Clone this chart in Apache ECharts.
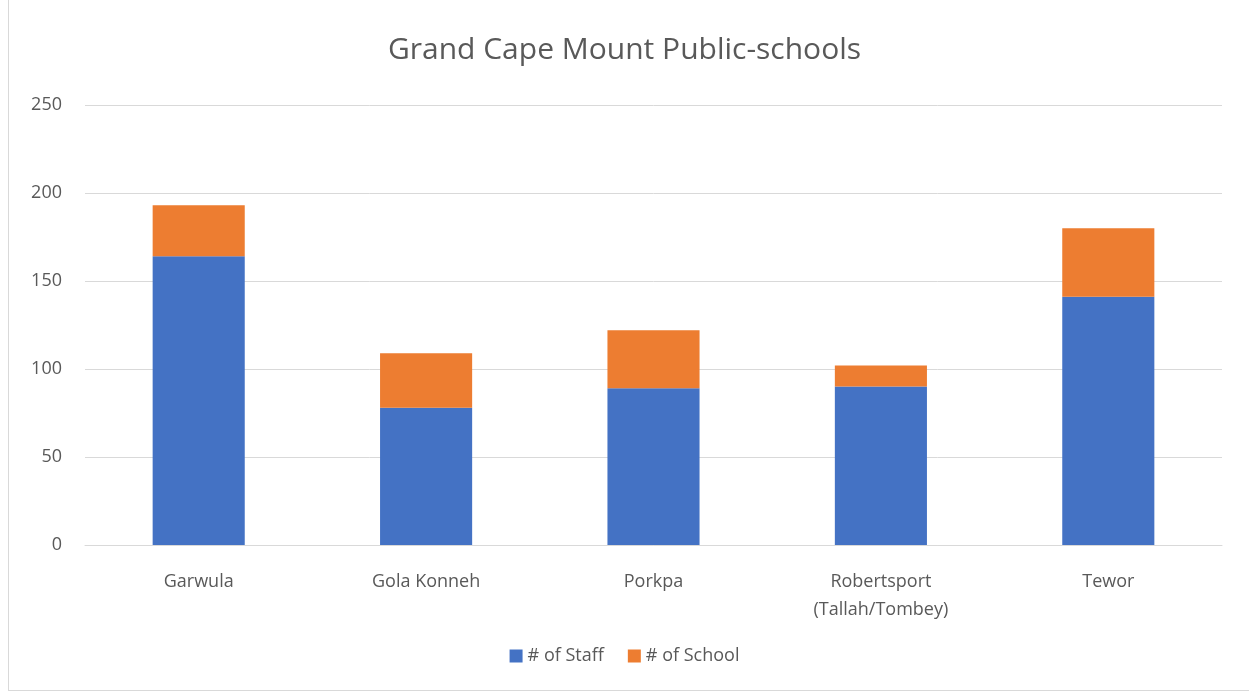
<!DOCTYPE html>
<html>
<head>
<meta charset="utf-8">
<script src="https://cdn.jsdelivr.net/npm/echarts@6/dist/echarts.min.js"></script>
<style>
  html, body { margin: 0; padding: 0; background: #fff; }
  #frame { position: absolute; left: 8px; top: -1px; width: 1250px; height: 690px; border: 1px solid #d9d9d9; }
  #main { position: absolute; left: 0; top: 0; width: 1249px; height: 694px; }
</style>
</head>
<body>
<div id="frame"></div>
<div id="main"></div>
<script>
// data
var categories = ['Garwula', 'Gola Konneh', 'Porkpa', 'Robertsport\n(Tallah/Tombey)', 'Tewor'];
var staff = [164, 78, 89, 90, 141];
var schools = [29, 31, 33, 12, 39];

var chart = echarts.init(document.getElementById('main'), null, { renderer: 'canvas' });

var textColor = '#595959';
var font = '"Open Sans", Lato, sans-serif';

var option = {
  animation: false,
  title: {
    text: 'Grand Cape Mount Public-schools',
    left: 'center',
    top: 30,
    textStyle: { color: textColor, fontSize: 30, fontWeight: 'normal', fontFamily: font }
  },
  legend: {
    bottom: 24,
    left: 'center',
    itemWidth: 13,
    itemHeight: 13,
    itemGap: 24,
    icon: 'rect',
    textStyle: { color: textColor, fontSize: 18, fontFamily: font },
    data: ['# of Staff', '# of School']
  },
  grid: { left: 85, right: 27, top: 105, bottom: 149 },
  xAxis: {
    type: 'category',
    data: categories,
    axisLine: { lineStyle: { color: '#d9d9d9', width: 1 } },
    axisTick: { show: false },
    axisLabel: { color: textColor, fontSize: 18, fontFamily: font, margin: 23, lineHeight: 28 }
  },
  yAxis: {
    type: 'value',
    min: 0,
    max: 250,
    interval: 50,
    axisLine: { show: false },
    axisTick: { show: false },
    splitLine: { lineStyle: { color: '#d9d9d9', width: 1 } },
    axisLabel: { color: textColor, fontSize: 18, fontFamily: font, margin: 23 }
  },
  series: [
    {
      name: '# of Staff',
      type: 'bar',
      stack: 'total',
      barWidth: '40.5%',
      itemStyle: { color: '#4472c4' },
      data: staff
    },
    {
      name: '# of School',
      type: 'bar',
      stack: 'total',
      itemStyle: { color: '#ed7d31' },
      data: schools
    }
  ]
};

chart.setOption(option);
</script>
</body>
</html>
